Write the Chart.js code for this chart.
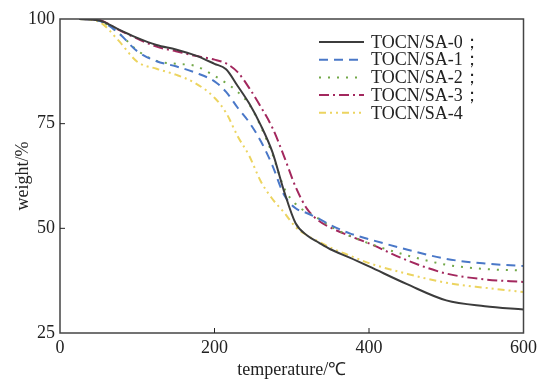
<!DOCTYPE html>
<html>
<head>
<meta charset="utf-8">
<script src="https://cdn.jsdelivr.net/npm/chart.js@4/dist/chart.umd.min.js"></script>
<style>
  html, body { margin: 0; padding: 0; background: #fff; }
  #wrap { width: 543px; height: 379px; }
</style>
</head>
<body>
<div id="wrap"><canvas id="tgChart" width="543" height="379"></canvas></div>
<script>
// TG curves
const temps = [25, 50, 75, 100, 125, 150, 175, 200, 215, 230, 245, 260, 275, 290, 305, 320, 335, 350, 375, 400, 450, 500, 550, 600];
const sa0 = [100, 99.7, 97.6, 95.5, 93.8, 92.7, 91.3, 89.3, 88.0, 84.0, 79.8, 74.6, 68.2, 58.9, 51.2, 48.3, 46.6, 45.0, 43.0, 40.9, 36.6, 32.8, 31.4, 30.6];
const sa1 = [100, 99.6, 96.8, 92.3, 89.9, 88.7, 87.2, 85.1, 82.6, 78.8, 75.3, 70.8, 65.0, 58.0, 54.8, 53.6, 52.3, 50.8, 48.8, 47.4, 44.9, 42.7, 41.6, 41.0];
const sa2 = [100, 99.6, 96.8, 92.5, 90.0, 89.3, 88.8, 86.4, 84.7, 82.6, 79.6, 74.3, 67.7, 59.7, 55.8, 53.8, 52.3, 50.5, 48.2, 46.4, 43.5, 41.3, 40.3, 39.9];
const sa3 = [100, 99.8, 97.5, 95.3, 93.4, 92.3, 91.2, 90.3, 89.4, 87.3, 83.5, 79.0, 74.0, 67.2, 59.9, 54.6, 51.8, 50.2, 48.2, 46.4, 42.3, 39.2, 37.8, 37.2];
const sa4 = [100, 99.4, 95.0, 89.8, 88.1, 86.7, 84.7, 81.2, 77.6, 72.0, 67.3, 61.2, 57.0, 53.8, 50.3, 48.3, 46.8, 45.4, 43.5, 41.7, 39.1, 37.0, 35.8, 34.8];
const seriesNames = ["TOCN/SA-0；", "TOCN/SA-1；", "TOCN/SA-2；", "TOCN/SA-3；", "TOCN/SA-4"];
const xTicks = [0, 200, 400, 600];
const yTicks = [25, 50, 75, 100];

const colors = ["#3c3c3c", "#4a78c8", "#72a848", "#a3285e", "#ecd460"];
const dashes = [[], [9, 6], [2, 7], [10, 4, 2, 4], [7, 4, 2, 4, 2, 4]];
const FONT = "'Liberation Serif', 'Times New Roman', serif";

function pts(arr) {
  return temps.map((t, i) => ({ x: t, y: arr[i] }));
}

const allSeries = [sa0, sa1, sa2, sa3, sa4];
const datasets = allSeries.map((s, i) => ({
  label: seriesNames[i],
  data: pts(s),
  borderColor: colors[i],
  borderDash: dashes[i],
  borderWidth: 2,
  pointRadius: 0,
  fill: false,
  cubicInterpolationMode: "monotone"
}));

// frame, inner ticks and legend
const framePlugin = {
  id: "frame",
  afterDraw(chart) {
    const { ctx, chartArea: a, scales } = chart;
    ctx.save();
    ctx.strokeStyle = "#444";
    ctx.lineWidth = 1.5;
    ctx.setLineDash([]);
    ctx.strokeRect(a.left, a.top, a.right - a.left, a.bottom - a.top);
    ctx.lineWidth = 1;
    ctx.strokeStyle = "#222";
    xTicks.slice(1, -1).forEach(v => {
      const x = scales.x.getPixelForValue(v);
      ctx.beginPath();
      ctx.moveTo(x, a.bottom);
      ctx.lineTo(x, a.bottom - 5);
      ctx.stroke();
    });
    yTicks.slice(1, -1).forEach(v => {
      const y = scales.y.getPixelForValue(v);
      ctx.beginPath();
      ctx.moveTo(a.left, y);
      ctx.lineTo(a.left + 5, y);
      ctx.stroke();
    });

    // legend
    ctx.font = "18px " + FONT;
    ctx.textBaseline = "middle";
    ctx.fillStyle = "#222";
    chart.data.datasets.forEach((ds, i) => {
      const y = 42 + i * 17.7;
      ctx.strokeStyle = ds.borderColor;
      ctx.lineWidth = 2;
      ctx.setLineDash(ds.borderDash);
      ctx.beginPath();
      ctx.moveTo(319, y);
      ctx.lineTo(364, y);
      ctx.stroke();
      ctx.setLineDash([]);
      ctx.fillText(ds.label, 371, y + 1);
    });
    ctx.restore();
  }
};

const ctx = document.getElementById("tgChart").getContext("2d");
const tgChart = new Chart(ctx, {
  type: "line",
  data: { datasets: datasets },
  options: {
    responsive: false,
    animation: false,
    devicePixelRatio: 1,
    layout: { padding: { top: 19, right: 15, left: 0, bottom: 0 } },
    plugins: {
      legend: { display: false },
      tooltip: { enabled: false }
    },
    scales: {
      x: {
        type: "linear",
        min: 0,
        max: 600,
        afterBuildTicks: s => { s.ticks = xTicks.map(v => ({ value: v })); },
        afterFit: s => { s.height = 46; },
        grid: { display: false, drawTicks: false },
        border: { display: false },
        ticks: { color: "#222", padding: 6, maxRotation: 0, font: { family: FONT, size: 18, lineHeight: 1 } },
        title: { display: true, text: "temperature/℃", color: "#222", padding: { top: 0, bottom: 0 }, font: { family: FONT, size: 18, lineHeight: 1 } }
      },
      y: {
        min: 25,
        max: 100,
        afterBuildTicks: s => { s.ticks = yTicks.map(v => ({ value: v })); },
        afterFit: s => { s.width = 60; },
        grid: { display: false, drawTicks: false },
        border: { display: false },
        ticks: { color: "#222", padding: 5, font: { family: FONT, size: 18 } },
        title: { display: true, text: "weight/%", color: "#222", padding: { top: 12, bottom: 0 }, font: { family: FONT, size: 18 } }
      }
    }
  },
  plugins: [framePlugin]
});
</script>
</body>
</html>
